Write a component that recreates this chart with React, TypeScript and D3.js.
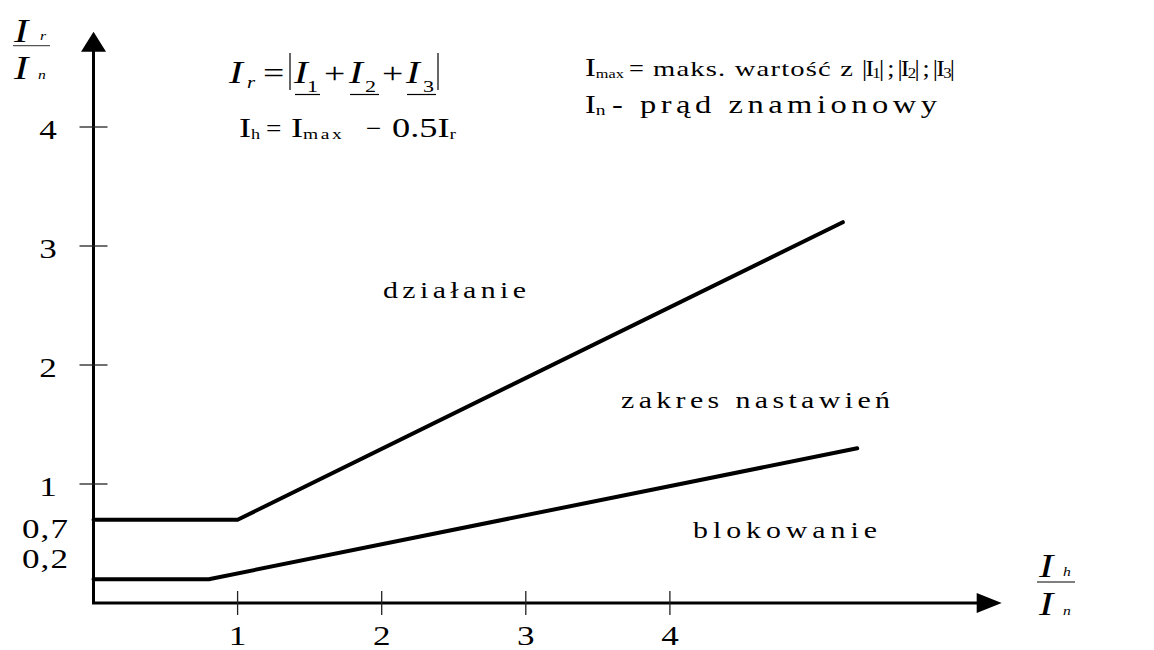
import React from "react";
import * as d3 from "d3";

// Characteristic of the restraint (stabilised) earth-fault relay: Ir/In versus Ih/In
const xTickValues = [1, 2, 3, 4];
const xTickLabels = ["1", "2", "3", "4"];
const yTickValues = [1, 2, 3, 4];
const yTickLabels = ["1", "2", "3", "4"];
const yStartValues = [0.7, 0.2];
const yStartLabels = ["0,7", "0,2"];

// Upper and lower limits of the setting range (h = Ih/In, r = Ir/In)
const upperH = [0, 1, 5.2];
const upperR = [0.7, 0.7, 3.2];
const lowerH = [0, 0.8, 5.3];
const lowerR = [0.2, 0.2, 1.3];

const regionLabels = ["działanie", "zakres nastawień", "blokowanie"];

const W = 1154;
const H = 650;
const FONT = "'Liberation Serif', 'Times New Roman', serif";
// the drawing's lettering is set horizontally widened
const SX = 1.3;

const x = d3.scaleLinear().domain([0, 6]).range([93.5, 93.5 + 6 * 144.1]);
const y = d3.scaleLinear().domain([0, 4]).range([603, 127]);

const line = d3
  .line<[number, number]>()
  .x((d) => x(d[0]))
  .y((d) => y(d[1]));

const upper: [number, number][] = upperH.map((h, i) => [h, upperR[i]]);
const lower: [number, number][] = lowerH.map((h, i) => [h, lowerR[i]]);

// where the region names sit and how wide they are spread
const regionPos = [
  { x: 383, y: 298, w: 143 },
  { x: 621, y: 408, w: 269 },
  { x: 693, y: 538, w: 184 },
];
// decimal start labels are nudged so they do not collide
const yStartOffsets = [18, -11];

type TProps = {
  x: number;
  y: number;
  size: number;
  anchor?: "start" | "middle" | "end";
  italic?: boolean;
  width?: number;
  sx?: number;
  children: React.ReactNode;
};

// widened text placed at (x, y); width (if given) is the spread in page pixels
function T({ x: px, y: py, size, anchor = "start", italic, width, sx = SX, children }: TProps) {
  return (
    <text
      transform={`translate(${px},${py}) scale(${sx},1)`}
      x={0}
      y={0}
      fontSize={size}
      fontStyle={italic ? "italic" : "normal"}
      textAnchor={anchor}
      textLength={width ? width / sx : undefined}
      lengthAdjust={width ? "spacing" : undefined}
      fill="#000"
      style={{ fontFamily: FONT }}
    >
      {children}
    </text>
  );
}

export default function App() {
  const x0 = x(0);
  const y0 = y(0);
  const yTip = 31.7;
  const xTip = 1001.7;
  return (
    <svg
      width={W}
      height={H}
      style={{ position: "absolute", left: 0, top: 0, background: "#fff", fontFamily: FONT }}
    >
      <rect width={W} height={H} fill="#fff" />

      {/* axes */}
      <line x1={x0} y1={y0} x2={x0} y2={yTip + 15} stroke="#000" strokeWidth={3} />
      <polygon
        points={`${x0},${yTip} ${x0 - 12.5},${yTip + 20} ${x0 + 12.5},${yTip + 20}`}
        fill="#000"
      />
      <line x1={x0 - 1.5} y1={y0} x2={xTip - 20} y2={y0} stroke="#000" strokeWidth={3} />
      <polygon
        points={`${xTip},${y0} ${xTip - 25},${y0 - 10} ${xTip - 25},${y0 + 10}`}
        fill="#000"
      />

      {/* ticks */}
      {xTickValues.map((v, i) => (
        <g key={"xt" + v}>
          <line x1={x(v)} x2={x(v)} y1={y0 - 12} y2={y0 + 12} stroke="#222" strokeWidth={1.3} />
          <T x={x(v)} y={645} size={27} anchor="middle">
            {xTickLabels[i]}
          </T>
        </g>
      ))}
      {yTickValues.map((v, i) => (
        <g key={"yt" + v}>
          <line x1={x0 - 14} x2={x0 + 14} y1={y(v)} y2={y(v)} stroke="#222" strokeWidth={1.3} />
          <T x={48} y={y(v) + 11.5} size={27} anchor="middle">
            {yTickLabels[i]}
          </T>
        </g>
      ))}
      {yStartValues.map((v, i) => (
        <T key={"ys" + v} x={22} y={y(v) + yStartOffsets[i]} size={27} width={46}>
          {yStartLabels[i]}
        </T>
      ))}

      {/* characteristic */}
      <path d={line(upper) ?? ""} fill="none" stroke="#000" strokeWidth={4} strokeLinecap="round" strokeLinejoin="round" />
      <path d={line(lower) ?? ""} fill="none" stroke="#000" strokeWidth={4} strokeLinecap="round" strokeLinejoin="round" />

      {/* region names */}
      {regionLabels.map((t, i) => (
        <T key={t} x={regionPos[i].x} y={regionPos[i].y} size={23} width={regionPos[i].w}>
          {t}
        </T>
      ))}

      {/* axis titles */}
      <T x={14} y={42} size={33} italic>I</T>
      <T x={40} y={40} size={12} italic>r</T>
      <line x1={13} x2={50} y1={45.7} y2={45.7} stroke="#555" strokeWidth={1.3} />
      <T x={14} y={79} size={33} italic>I</T>
      <T x={38} y={79} size={12} italic>n</T>

      <T x={1039} y={577} size={33} italic>I</T>
      <T x={1063} y={576} size={12} italic>h</T>
      <line x1={1037} x2={1075} y1={582} y2={582} stroke="#555" strokeWidth={1.3} />
      <T x={1039} y={615} size={33} italic>I</T>
      <T x={1063} y={615} size={12} italic>n</T>

      {/* Ir = |I1 + I2 + I3| */}
      <T x={229} y={83} size={32} italic>I</T>
      <T x={247} y={88} size={16} italic>r</T>
      <T x={263} y={83} size={29}>=</T>
      <line x1={290} x2={290} y1={53} y2={90} stroke="#000" strokeWidth={1.2} />
      <T x={294} y={83} size={32} italic>I</T>
      <T x={307} y={92} size={17}>1</T>
      <line x1={295} x2={320} y1={94.5} y2={94.5} stroke="#000" strokeWidth={1.2} />
      <T x={324} y={83} size={29}>+</T>
      <T x={349} y={83} size={32} italic>I</T>
      <T x={365} y={92} size={17}>2</T>
      <line x1={350} x2={379} y1={94.5} y2={94.5} stroke="#000" strokeWidth={1.2} />
      <T x={382} y={83} size={29}>+</T>
      <T x={406} y={83} size={32} italic>I</T>
      <T x={423} y={92} size={17}>3</T>
      <line x1={407} x2={436} y1={94.5} y2={94.5} stroke="#000" strokeWidth={1.2} />
      <line x1={438} x2={438} y1={53} y2={90} stroke="#000" strokeWidth={1.2} />

      {/* Ih = Imax − 0.5Ir */}
      <T x={239} y={137} size={28}>
        I<tspan fontSize={14} dy={2}>h</tspan>
      </T>
      <T x={266} y={137} size={26} sx={1.05}>=</T>
      <T x={291} y={137} size={28}>
        I<tspan fontSize={15} dy={2} letterSpacing={2}>max</tspan>
      </T>
      <T x={366} y={137} size={26} sx={1.05}>−</T>
      <T x={392} y={137} size={28}>
        0.5I<tspan fontSize={15} dy={2}>r</tspan>
      </T>

      {/* definitions */}
      <T x={585} y={76} size={25}>
        I<tspan fontSize={12.5} dy={2}>max</tspan>
      </T>
      <T x={629} y={76} size={24} sx={1.1}>=</T>
      <T x={653} y={76} size={22} width={200}>
        maks. wartość z
      </T>
      <T x={862} y={76} size={23} width={93} sx={1.12}>
        |I<tspan fontSize={15} dy={2}>1</tspan>
        <tspan dy={-2}>| ; |I</tspan>
        <tspan fontSize={15} dy={2}>2</tspan>
        <tspan dy={-2}>| ; |I</tspan>
        <tspan fontSize={15} dy={2}>3</tspan>
        <tspan dy={-2}>|</tspan>
      </T>
      <T x={585} y={113} size={25}>
        I<tspan fontSize={15} dy={2}>n</tspan>
      </T>
      <T x={612} y={113} size={25} width={325}>
        - prąd znamionowy
      </T>
    </svg>
  );
}
